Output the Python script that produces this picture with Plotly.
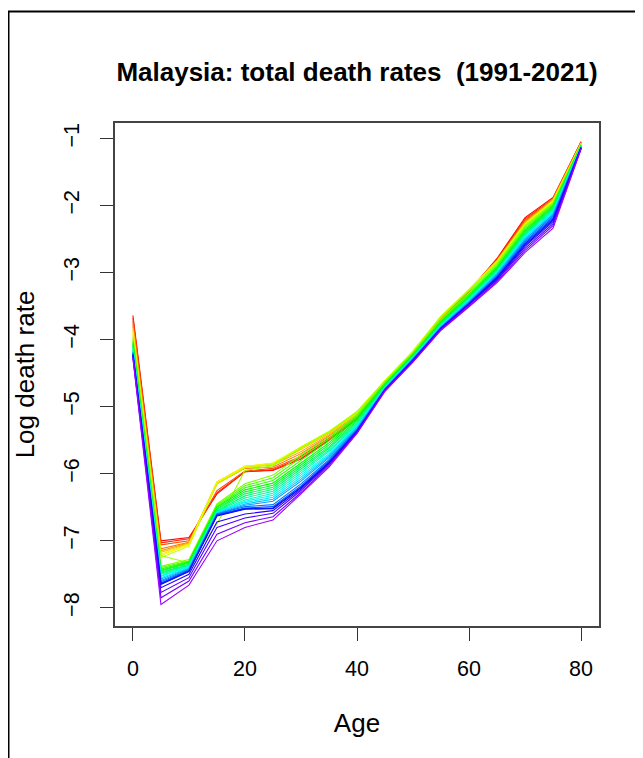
import colorsys
import plotly.graph_objects as go

years = list(range(1991, 2022))
ages = [0, 5, 10, 15, 20, 25, 30, 35, 40, 45, 50, 55, 60, 65, 70, 75, 80]

# log death rate by age group, one value per year 1991..2021
age_0 = [-3.64, -3.68, -3.72, -3.76, -3.80, -3.84, -3.87, -3.90, -3.93, -3.96, -3.99, -4.02, -4.04, -4.06, -4.08, -4.10, -4.12, -4.13, -4.15, -4.16, -4.17, -4.18, -4.19, -4.20, -4.21, -4.22, -4.23, -4.24, -4.25, -4.27, -4.28]
age_5 = [-7.00, -7.03, -7.06, -7.12, -7.15, -7.17, -7.20, -7.22, -7.25, -7.22, -7.38, -7.40, -7.42, -7.44, -7.45, -7.47, -7.48, -7.50, -7.52, -7.53, -7.55, -7.57, -7.59, -7.61, -7.63, -7.64, -7.65, -7.70, -7.77, -7.85, -7.95]
age_10 = [-6.95, -6.97, -7.00, -7.02, -7.03, -7.04, -7.05, -7.06, -7.08, -7.33, -7.28, -7.30, -7.31, -7.32, -7.33, -7.35, -7.36, -7.37, -7.38, -7.39, -7.40, -7.41, -7.42, -7.43, -7.44, -7.45, -7.46, -7.50, -7.55, -7.60, -7.66]
age_15 = [-6.30, -6.28, -6.25, -6.15, -6.13, -6.12, -6.12, -6.13, -6.15, -6.75, -6.45, -6.47, -6.49, -6.50, -6.52, -6.53, -6.55, -6.56, -6.57, -6.58, -6.58, -6.59, -6.60, -6.60, -6.61, -6.62, -6.63, -6.72, -6.80, -6.90, -7.00]
age_20 = [-5.97, -5.97, -5.96, -5.92, -5.90, -5.89, -5.89, -5.90, -5.91, -5.95, -6.15, -6.18, -6.21, -6.24, -6.27, -6.30, -6.33, -6.36, -6.39, -6.41, -6.43, -6.45, -6.47, -6.49, -6.51, -6.52, -6.53, -6.60, -6.66, -6.73, -6.80]
age_25 = [-5.95, -5.94, -5.92, -5.90, -5.87, -5.85, -5.84, -5.84, -5.86, -5.88, -6.02, -6.06, -6.10, -6.14, -6.17, -6.20, -6.23, -6.26, -6.29, -6.32, -6.35, -6.38, -6.41, -6.46, -6.49, -6.51, -6.52, -6.55, -6.59, -6.64, -6.69]
age_30 = [-5.78, -5.76, -5.74, -5.70, -5.67, -5.64, -5.62, -5.60, -5.60, -5.62, -5.72, -5.76, -5.80, -5.84, -5.87, -5.90, -5.93, -5.96, -5.99, -6.02, -6.05, -6.08, -6.11, -6.15, -6.18, -6.20, -6.21, -6.23, -6.25, -6.28, -6.30]
age_35 = [-5.50, -5.49, -5.47, -5.44, -5.42, -5.40, -5.38, -5.37, -5.37, -5.38, -5.45, -5.48, -5.51, -5.54, -5.57, -5.60, -5.62, -5.65, -5.67, -5.70, -5.72, -5.74, -5.76, -5.79, -5.81, -5.83, -5.84, -5.85, -5.86, -5.88, -5.90]
age_40 = [-5.18, -5.17, -5.16, -5.14, -5.12, -5.10, -5.09, -5.08, -5.07, -5.08, -5.12, -5.14, -5.16, -5.18, -5.20, -5.22, -5.24, -5.26, -5.27, -5.29, -5.30, -5.31, -5.33, -5.34, -5.35, -5.36, -5.37, -5.37, -5.38, -5.39, -5.40]
age_45 = [-4.66, -4.65, -4.65, -4.63, -4.62, -4.62, -4.61, -4.61, -4.61, -4.62, -4.64, -4.65, -4.66, -4.67, -4.68, -4.69, -4.70, -4.70, -4.71, -4.72, -4.72, -4.73, -4.73, -4.74, -4.74, -4.75, -4.75, -4.74, -4.75, -4.76, -4.77]
age_50 = [-4.20, -4.20, -4.19, -4.18, -4.18, -4.17, -4.17, -4.17, -4.18, -4.19, -4.20, -4.21, -4.22, -4.23, -4.24, -4.25, -4.25, -4.26, -4.27, -4.27, -4.28, -4.28, -4.29, -4.29, -4.30, -4.30, -4.31, -4.31, -4.32, -4.33, -4.33]
age_55 = [-3.72, -3.71, -3.70, -3.69, -3.68, -3.67, -3.66, -3.65, -3.65, -3.66, -3.70, -3.72, -3.73, -3.74, -3.75, -3.76, -3.77, -3.78, -3.79, -3.79, -3.80, -3.81, -3.81, -3.82, -3.82, -3.83, -3.83, -3.84, -3.84, -3.85, -3.86]
age_60 = [-3.28, -3.28, -3.27, -3.26, -3.26, -3.25, -3.25, -3.25, -3.26, -3.27, -3.30, -3.32, -3.33, -3.35, -3.36, -3.37, -3.38, -3.39, -3.40, -3.41, -3.42, -3.43, -3.44, -3.45, -3.46, -3.46, -3.47, -3.47, -3.48, -3.50, -3.51]
age_65 = [-2.79, -2.80, -2.81, -2.82, -2.82, -2.83, -2.83, -2.84, -2.85, -2.86, -2.88, -2.90, -2.91, -2.93, -2.94, -2.95, -2.96, -2.98, -2.99, -3.00, -3.01, -3.02, -3.03, -3.05, -3.06, -3.07, -3.08, -3.10, -3.11, -3.13, -3.15]
age_70 = [-2.18, -2.20, -2.22, -2.24, -2.25, -2.26, -2.27, -2.28, -2.29, -2.30, -2.32, -2.34, -2.36, -2.38, -2.40, -2.41, -2.42, -2.44, -2.45, -2.47, -2.48, -2.50, -2.51, -2.53, -2.55, -2.57, -2.59, -2.61, -2.64, -2.67, -2.70]
age_75 = [-1.88, -1.90, -1.91, -1.90, -1.91, -1.92, -1.93, -1.94, -1.95, -1.96, -1.97, -1.98, -2.00, -2.01, -2.03, -2.04, -2.05, -2.07, -2.08, -2.10, -2.11, -2.13, -2.14, -2.16, -2.18, -2.20, -2.22, -2.24, -2.27, -2.30, -2.34]
age_80 = [-1.05, -1.05, -1.06, -1.06, -1.07, -1.07, -1.08, -1.08, -1.08, -1.09, -1.09, -1.10, -1.10, -1.11, -1.11, -1.11, -1.12, -1.12, -1.12, -1.12, -1.13, -1.13, -1.13, -1.13, -1.14, -1.14, -1.14, -1.14, -1.15, -1.15, -1.16]

x_ticks = [0, 20, 40, 60, 80]
y_ticks = [-1, -2, -3, -4, -5, -6, -7, -8]

by_age = [age_0, age_5, age_10, age_15, age_20, age_25, age_30, age_35, age_40,
          age_45, age_50, age_55, age_60, age_65, age_70, age_75, age_80]


def rainbow(i):
    h = i * 0.02564
    r, g, b = colorsys.hsv_to_rgb(h, 1, 1)
    return f"rgb({int(round(r*255))},{int(round(g*255))},{int(round(b*255))})"


fig = go.Figure()
for j, yr in enumerate(years):
    fig.add_trace(go.Scatter(
        x=ages, y=[col[j] for col in by_age], mode="lines", name=str(yr),
        line=dict(color=rainbow(j), width=1.1), showlegend=False,
    ))

# page body has an 8px margin, so the figure is 8px smaller than the window
W, H = 635, 750
L, R, T, B = 107, 44, 115, 132
pw, ph = W - L - R, H - T - B

fig.update_layout(
    width=W, height=H,
    margin=dict(l=L, r=R, t=T, b=B),
    paper_bgcolor="white", plot_bgcolor="white",
    font=dict(family="Liberation Sans, Arial, sans-serif", size=21.5, color="black"),
    title=dict(text="<b>Malaysia: total death rates \u00a0(1991-2021)</b>",
               x=0.5, xanchor="center", xref="paper",
               y=1 - 64 / H, yanchor="middle", font=dict(size=26)),
    xaxis=dict(range=[-3.2, 83.2], tickvals=x_ticks, ticks="outside", ticklen=13,
               tickwidth=1.3, tickcolor="#333", showgrid=False, zeroline=False,
               showline=True, linecolor="#444", linewidth=1.5, mirror=True,
               ticklabelstandoff=9,
               title=dict(text="Age", standoff=34)),
    yaxis=dict(range=[-8.27, -0.77], tickvals=y_ticks, ticks="outside", ticklen=13,
               tickwidth=1.3, tickcolor="#333", showgrid=False, zeroline=False,
               showline=True, linecolor="#444", linewidth=1.5, mirror=True,
               tickangle=-90, ticklabelstandoff=13,
               title=dict(text="Log death rate", standoff=18)),
    shapes=[dict(type="rect", xref="paper", yref="paper",
                 x0=(0.5 - L) / pw, x1=(W + 30 - L) / pw,
                 y0=-(H + 30 - (T + ph)) / ph, y1=1 + (T - 3.5) / ph,
                 line=dict(color="black", width=2), layer="below")],
)

fig.write_html("out.html")
